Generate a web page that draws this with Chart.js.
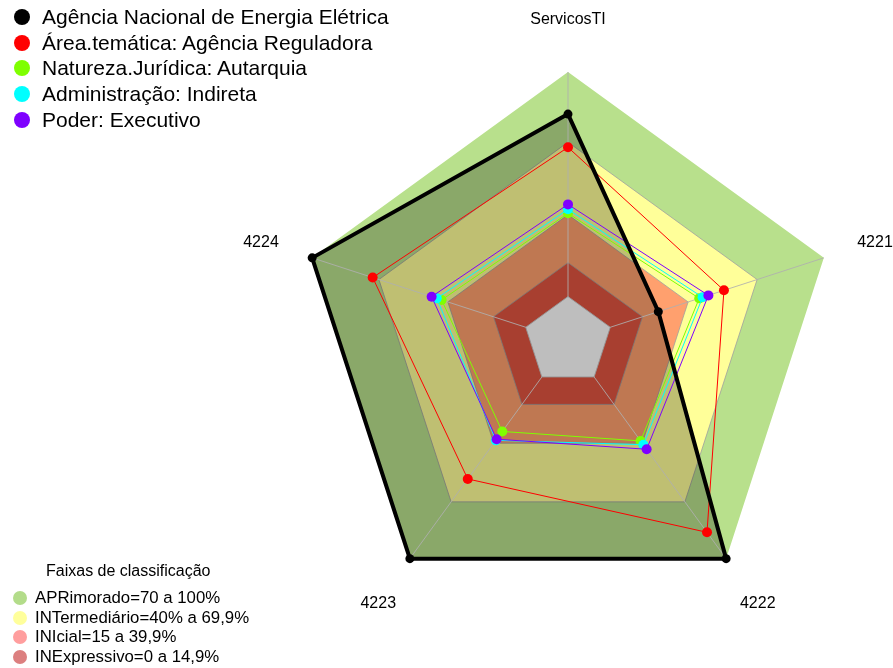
<!DOCTYPE html>
<html>
<head>
<meta charset="utf-8">
<script src="https://cdn.jsdelivr.net/npm/chart.js@4"></script>
<style>
    html, body { margin: 0; padding: 0; background: #fff; }
    #wrap { position: relative; width: 893px; height: 668px; font-family: "Liberation Sans", Arial, sans-serif; }
    #radar { position: absolute; left: 0; top: 0; }
    .leg { position: absolute; left: 0; color: #000; white-space: nowrap; }
    .leg .dot { position: absolute; border-radius: 50%; }
    #topLegend .row { position: absolute; left: 42px; font-size: 21px; line-height: 22px; }
    #topLegend .dot { width: 16px; height: 16px; left: -28px; top: 3px; }
    #bandTitle { position: absolute; left: 46px; top: 562px; font-size: 16px; }
    #bandLegend .row { position: absolute; left: 35px; font-size: 16.8px; line-height: 18px; }
    #bandLegend .dot { width: 14px; height: 14px; left: -22px; top: 2px; }
</style>
</head>
<body>
<div id="wrap">
    <canvas id="radar" width="893" height="668"></canvas>
    <div id="topLegend" class="leg"></div>
    <div id="bandTitle">Faixas de classificação</div>
    <div id="bandLegend" class="leg"></div>
</div>
<script>
document.addEventListener("DOMContentLoaded", () => {

    // =========================
    // DADOS
    // =========================

    const categorias = ["ServicosTI", "4221", "4222", "4223", "4224"];

    const agencia = [82, 25.6, 100, 100, 100];
    const areaTematica = [67.8, 55.1, 86.1, 57.9, 72.8];
    const natureza = [39.6, 44, 37.8, 32.8, 41.8];
    const administracao = [41.3, 45.5, 39.8, 37.5, 44];
    const poder = [43.4, 48.1, 42.2, 36.9, 46.3];

    // limites das faixas
    const faixaAprimorado = [100, 100, 100, 100, 100];
    const faixaIntermediario = [70, 70, 70, 70, 70];
    const faixaInicial = [39, 39, 39, 39, 39];
    const faixaInexpressivo = [18.5, 18.5, 18.5, 18.5, 18.5];
    const centro = [4, 4, 4, 4, 4];

    const seriesNomes = [
        "Agência Nacional de Energia Elétrica",
        "Área.temática: Agência Reguladora",
        "Natureza.Jurídica: Autarquia",
        "Administração: Indireta",
        "Poder: Executivo"
    ];
    const seriesCores = ["#000000", "#ff0000", "#7fff00", "#00ffff", "#7f00ff"];

    const faixasNomes = [
        "APRimorado=70 a 100%",
        "INTermediário=40% a 69,9%",
        "INIcial=15 a 39,9%",
        "INExpressivo=0 a 14,9%"
    ];
    const faixasCores = ["#b3dc8a", "#ffff9c", "#ff9e9e", "#dc7f7f"];

    // =========================
    // LEGENDAS (HTML)
    // =========================

    const topLegend = document.getElementById("topLegend");
    seriesNomes.forEach((nome, i) => {
        const row = document.createElement("div");
        row.className = "row";
        row.style.top = (6 + i * 25.7) + "px";
        row.innerHTML = '<span class="dot" style="background:' + seriesCores[i] + '"></span>' + nome;
        topLegend.appendChild(row);
    });

    const bandLegend = document.getElementById("bandLegend");
    faixasNomes.forEach((nome, i) => {
        const row = document.createElement("div");
        row.className = "row";
        row.style.top = (589 + i * 19.6) + "px";
        row.innerHTML = '<span class="dot" style="background:' + faixasCores[i] + '"></span>' + nome;
        bandLegend.appendChild(row);
    });

    // =========================
    // PLUGINS
    // =========================

    const raiosPlugin = {
        id: "raios",
        afterDatasetDraw(chart, args) {
            if (args.index !== 9) return;
            const scale = chart.scales.r;
            const ctx = chart.ctx;
            ctx.save();
            ctx.strokeStyle = "rgba(175,175,175,0.85)";
            ctx.lineWidth = 1;
            for (let i = 0; i < categorias.length; i++) {
                const p = scale.getPointPosition(i, scale.drawingArea);
                ctx.beginPath();
                ctx.moveTo(scale.xCenter, scale.yCenter);
                ctx.lineTo(p.x, p.y);
                ctx.stroke();
            }
            ctx.restore();
        }
    };

    const rotulosPlugin = {
        id: "rotulos",
        afterDraw(chart) {
            const scale = chart.scales.r;
            const ctx = chart.ctx;
            ctx.save();
            ctx.font = '16px "Liberation Sans", Arial, sans-serif';
            ctx.fillStyle = "#000";
            ctx.textAlign = "center";
            ctx.textBaseline = "middle";
            categorias.forEach((c, i) => {
                const p = scale.getPointPosition(i, scale.drawingArea * 1.2);
                ctx.fillText(c, p.x, p.y + 1);
            });
            ctx.restore();
        }
    };

    // =========================
    // GRÁFICO RADAR
    // =========================

    const linha = (label, data, cor, ordem) => ({
        label: label,
        data: data,
        borderColor: cor,
        backgroundColor: cor,
        borderWidth: 1,
        pointRadius: 5,
        pointBorderWidth: 0,
        pointBackgroundColor: cor,
        fill: false,
        order: ordem
    });

    const faixa = (label, data, cor, borda, ordem) => ({
        label: label,
        data: data,
        borderColor: borda,
        backgroundColor: cor,
        borderWidth: borda ? 1 : 0,
        pointRadius: 0,
        fill: "start",
        order: ordem
    });

    new Chart(document.getElementById("radar"), {
        type: "radar",
        data: {
            labels: categorias,
            datasets: [
                {
                    label: seriesNomes[0],
                    data: agencia,
                    borderColor: "#000",
                    backgroundColor: "#000",
                    borderWidth: 4,
                    borderJoinStyle: "round",
                    pointRadius: 4.5,
                    pointBorderWidth: 0,
                    pointBackgroundColor: "#000",
                    fill: false,
                    order: 0
                },
                linha(seriesNomes[1], areaTematica, seriesCores[1], 4),
                linha(seriesNomes[2], natureza, seriesCores[2], 3),
                linha(seriesNomes[3], administracao, seriesCores[3], 2),
                linha(seriesNomes[4], poder, seriesCores[4], 1),
                faixa("APRimorado", faixaAprimorado, "#b8e08c", null, 10),
                faixa("INTermediário", faixaIntermediario, "#ffff99", "rgba(160,160,160,0.8)", 9),
                faixa("INIcial", faixaInicial, "#ffa06e", "rgba(160,160,160,0.8)", 8),
                faixa("INExpressivo", faixaInexpressivo, "#e05540", "rgba(160,160,160,0.8)", 7),
                faixa("sombra", agencia, "rgba(0,0,0,0.25)", null, 6),
                faixa("centro", centro, "#bebebe", "rgba(150,150,150,0.9)", 5)
            ]
        },
        options: {
            responsive: false,
            animation: false,
            events: [],
            clip: false,
            layout: {
                padding: { left: 299, right: 56, top: 72, bottom: 58 }
            },
            plugins: {
                legend: { display: false },
                tooltip: { enabled: false }
            },
            scales: {
                r: {
                    min: -15,
                    max: 100,
                    ticks: { display: false },
                    grid: { display: false },
                    angleLines: { display: false },
                    pointLabels: { display: false }
                }
            }
        },
        plugins: [raiosPlugin, rotulosPlugin]
    });

});
</script>
</body>
</html>
